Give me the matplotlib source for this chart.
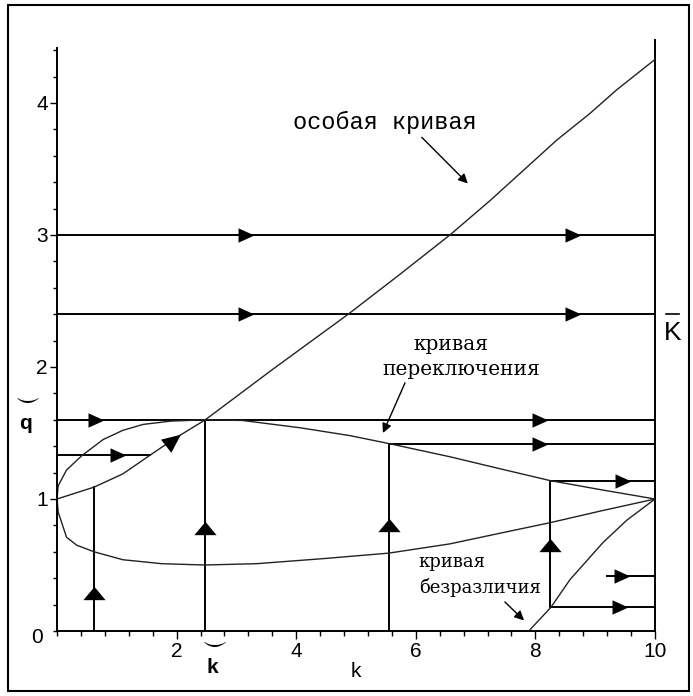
import numpy as np
import matplotlib
matplotlib.use('Agg')
import matplotlib.pyplot as plt
from matplotlib.patches import Rectangle

# особая кривая
sing_k = [0, 0.62, 1.1, 1.55, 1.94, 2.48, 3.6, 4.87, 5.7, 6.57, 7.24, 7.8, 8.36, 8.91, 9.36, 10]
sing_q = [1.0, 1.09, 1.19, 1.33, 1.45, 1.6, 1.98, 2.4, 2.69, 3.0, 3.26, 3.49, 3.72, 3.92, 4.1, 4.33]

# кривая переключения, верхняя и нижняя ветви
sw_up_k = [0, 0.02, 0.16, 0.42, 0.77, 1.1, 1.44, 1.9, 2.48, 3.1, 4.06, 4.9, 5.55, 6.57, 7.4, 8.24, 9.1, 10]
sw_up_q = [1.0, 1.1, 1.22, 1.33, 1.45, 1.52, 1.565, 1.59, 1.6, 1.595, 1.54, 1.48, 1.42, 1.32, 1.23, 1.14, 1.07, 1.0]
sw_lo_k = [0, 0.02, 0.16, 0.33, 0.62, 1.1, 1.75, 2.47, 3.34, 4.5, 5.55, 6.57, 7.4, 8.24, 9.1, 10]
sw_lo_q = [1.0, 0.9, 0.71, 0.65, 0.6, 0.54, 0.51, 0.5, 0.51, 0.55, 0.59, 0.66, 0.74, 0.82, 0.91, 1.0]

# кривая безразличия
ind_k = [7.89, 8.26, 8.58, 9.13, 9.53, 10]
ind_q = [0.0, 0.18, 0.39, 0.67, 0.84, 1.0]

# горизонтальные траектории
hor_q = [3.0, 2.4, 1.6, 1.42, 1.33, 1.14, 0.42, 0.18]
hor_k0 = [0, 0, 0, 5.55, 0, 8.24, 9.2, 8.26]
hor_k1 = [10, 10, 10, 10, 1.55, 10, 10, 10]
hor_arr = [[3.16, 8.63], [3.16, 8.63], [0.65, 8.08], [8.08], [1.02], [9.46], [9.45], [9.41]]

# вертикальные траектории
ver_k = [0.62, 2.48, 5.55, 8.24]
ver_q0 = [0, 0, 0, 0.18]
ver_q1 = [1.09, 1.6, 1.42, 1.14]
ver_arr = [0.29, 0.78, 0.8, 0.65]

K_max = 10
sing_arrow = (1.94, 1.45)

fig = plt.figure(figsize=(6.93, 6.96), dpi=100)
ax = fig.add_axes([57/693, 65/696, 598/693, 4.5*132/696])
ax.set_xlim(0, 10)
ax.set_ylim(0, 4.5)
ax.patch.set_alpha(0)

right_m = [(-0.5, -0.45), (0.5, 0), (-0.5, 0.45)]
up_m = [(-0.5, -0.3), (0.5, -0.3), (0, 0.3)]

for q, a, b, arr in zip(hor_q, hor_k0, hor_k1, hor_arr):
    ax.plot([a, b], [q, q], color='k', lw=1.4)
    ax.plot(arr, [q]*len(arr), ls='none', marker=right_m, ms=11.5, color='k', mew=0)
for k, a, b, arr in zip(ver_k, ver_q0, ver_q1, ver_arr):
    ax.plot([k, k], [a, b], color='k', lw=1.4)
    ax.plot([k], [arr], ls='none', marker=up_m, ms=16, color='k', mew=0)
ax.plot([K_max, K_max], [0, 4.48], color='k', lw=1.4, clip_on=False)

ax.plot(sing_k, sing_q, color='#222222', lw=1.0)
ax.plot(sw_up_k, sw_up_q, color='#222222', lw=1.0)
ax.plot(sw_lo_k, sw_lo_q, color='#222222', lw=1.0)
ax.plot(ind_k, ind_q, color='#222222', lw=1.0)

# стрелка вдоль особой кривой
th = np.deg2rad(38)
rot = [(x*np.cos(th) - y*np.sin(th), x*np.sin(th) + y*np.cos(th)) for x, y in right_m]
ax.plot([sing_arrow[0]], [sing_arrow[1]], ls='none', marker=rot, ms=18, color='k', mew=0)

# оси
for s in ['top', 'right']:
    ax.spines[s].set_visible(False)
ax.spines['left'].set_bounds(0, 4.42)
ax.spines['left'].set_linewidth(1.4)
ax.spines['bottom'].set_linewidth(1.4)
ax.set_xticks([2, 4, 6, 8, 10])
ax.set_xticklabels(['2', '4', '6', '8', '10'])
ax.set_xticks(np.arange(0, 10.01, 0.4), minor=True)
ax.set_yticks([1, 2, 3, 4])
ax.set_yticklabels(['1', '2', '3', '4'])
ax.set_yticks(np.arange(0, 4.41, 0.2), minor=True)
ax.tick_params(axis='x', which='major', length=6, width=1, pad=2, labelsize=15)
ax.tick_params(axis='x', which='minor', length=3.6, width=1)
ax.tick_params(axis='y', which='major', length=5, width=1, pad=1.5, labelsize=15)
ax.tick_params(axis='y', which='minor', length=3, width=1)
for t in ax.get_xticklabels() + ax.get_yticklabels():
    t.set_family('Liberation Sans')
ax.text(-0.33, -0.05, '0', fontsize=15, family='Liberation Sans', ha='center', va='center')
ax.text(5.0, -0.31, 'k', fontsize=15, family='Liberation Sans', ha='center', va='center')

# обозначения
ax.text(2.6, -0.28, 'k', fontsize=15, family='Liberation Sans', weight='bold', ha='center', va='center')
ax.text(2.6, -0.09, r'$\smile$', fontsize=17, ha='center', va='center')
ax.text(-0.52, 1.57, 'q', fontsize=15, family='Liberation Sans', weight='bold', ha='center', va='center')
ax.text(-0.52, 1.76, r'$\smile$', fontsize=17, ha='center', va='center')
ax.text(10.29, 2.26, 'K', fontsize=19, family='Liberation Sans', ha='center', va='center')
ax.plot([10.19, 10.4], [2.4, 2.4], color='k', lw=1.2, clip_on=False)

ax.text(5.49, 3.85, 'особая кривая', fontsize=17, family='Liberation Mono', ha='center', va='center')
ax.annotate('', xy=(6.87, 3.39), xytext=(6.1, 3.74),
            arrowprops=dict(arrowstyle='-|>', color='k', lw=1, mutation_scale=14, shrinkA=0, shrinkB=0))
ax.text(6.59, 2.17, 'кривая', fontsize=14.5, family='DejaVu Serif', ha='center', va='center')
ax.text(6.76, 1.98, 'переключения', fontsize=14.5, family='DejaVu Serif', ha='center', va='center')
ax.annotate('', xy=(5.45, 1.5), xytext=(5.82, 1.88),
            arrowprops=dict(arrowstyle='-|>', color='k', lw=1, mutation_scale=14, shrinkA=0, shrinkB=0))
ax.text(6.05, 0.52, 'кривая', fontsize=13, family='DejaVu Serif', ha='left', va='center')
ax.text(6.05, 0.33, 'безразличия', fontsize=13, family='DejaVu Serif', ha='left', va='center')
ax.annotate('', xy=(7.81, 0.08), xytext=(7.49, 0.22),
            arrowprops=dict(arrowstyle='-|>', color='k', lw=1, mutation_scale=14, shrinkA=0, shrinkB=0))

fig.patches.append(Rectangle((8/693, 5/696), 681/693, 686/696, transform=fig.transFigure,
                             fill=False, ec='k', lw=1.5))

fig.savefig('out.png', dpi=100)
